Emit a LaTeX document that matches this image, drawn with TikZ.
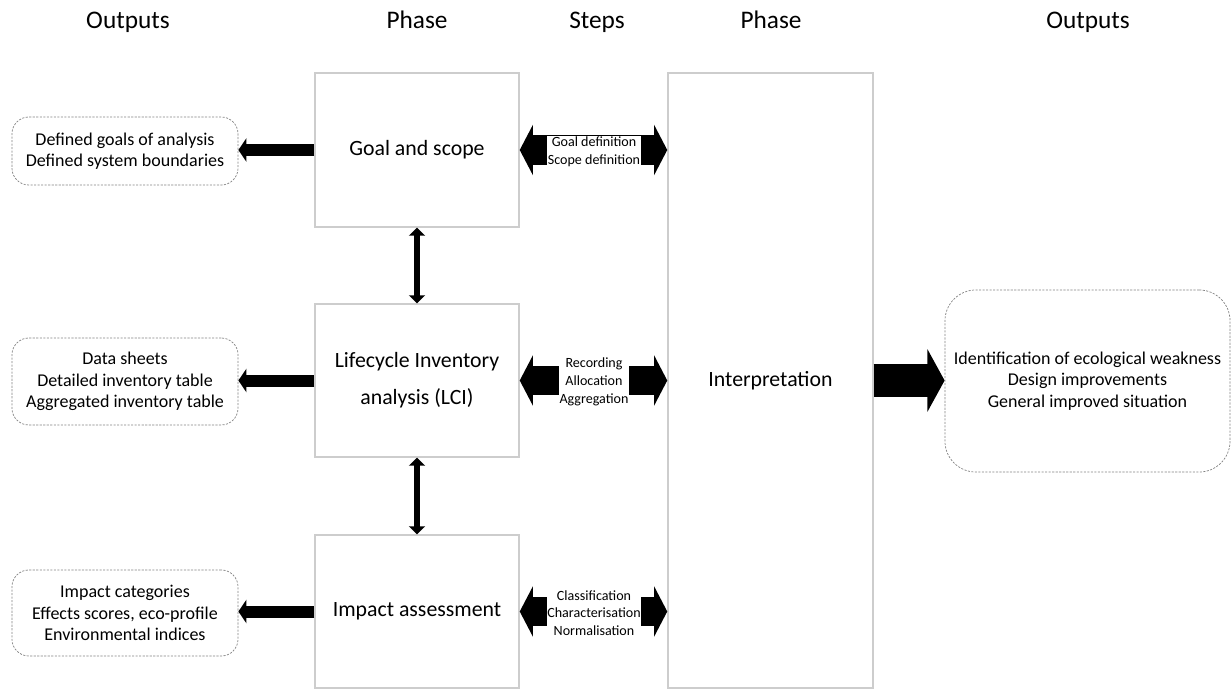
\documentclass[tikz,border=0pt]{standalone}
\usepackage{fontspec}
\setmainfont{Carlito}
\usetikzlibrary{arrows.meta, positioning}
\definecolor{boxgray}{RGB}{205,205,205}
\definecolor{dashgray}{RGB}{130,130,130}
\tikzset{
  phasebox/.style={
    rectangle, draw=boxgray, line width=1pt, fill=white,
    minimum width=5.1cm, minimum height=3.85cm,
    align=center, font=\fontsize{15.5}{26.3}\selectfont
  },
  outbox/.style={
    rectangle, rounded corners=12pt, draw=dashgray,
    dash pattern=on 1.5pt off 1pt, line width=0.5pt,
    minimum width=5.65cm, align=center,
    font=\fontsize{12.8}{15.3}\selectfont
  },
  headline/.style={anchor=base, font=\fontsize{18}{20}\selectfont},
  steptext/.style={fill=white, inner sep=0.5pt, align=center,
    font=\fontsize{10}{12.6}\selectfont},
  outarrow/.style={-{Triangle[length=0.2cm, width=0.58cm]}, line width=0.3cm},
  linkarrow/.style={{Triangle[length=0.2cm, width=0.4cm]}-{Triangle[length=0.2cm, width=0.4cm]}, line width=0.13cm},
  steparrow/.style={{Triangle[length=0.33cm, width=1.25cm]}-{Triangle[length=0.33cm, width=1.25cm]}, line width=0.73cm},
  bigarrow/.style={-{Triangle[length=0.43cm, width=1.55cm]}, line width=0.8cm}
}

\begin{document}
\begin{tikzpicture}[x=0.025cm, y=-0.025cm]
  \useasboundingbox (0,0) rectangle (1232,690);

  % Column headers
  \node[headline] (hout1) at (128,29) {Outputs};
  \node[headline] (hphase1) at (417,29) {Phase};
  \node[headline] (hsteps) at (597,29) {Steps};
  \node[headline] (hphase2) at (771,29) {Phase};
  \node[headline] (hout2) at (1088,29) {Outputs};

  % Phase boxes
  \node[phasebox] (goal) at (417,150) {Goal and scope};
  \node[phasebox, minimum height=3.825cm] (lci) at (417,380.5) {Lifecycle Inventory\\analysis (LCI)};
  \node[phasebox, minimum height=3.825cm] (impact) at (417,611.5) {Impact assessment};
  \node[phasebox, minimum width=5.125cm, minimum height=15.375cm] (interp) at (770.5,380.5) {Interpretation};

  % Output boxes
  \node[outbox, minimum height=1.7cm] (goalout) at (125,151) {Defined goals of analysis\\Defined system boundaries};
  \node[outbox, minimum height=2.175cm] (lciout) at (125,381.5) {Data sheets\\Detailed inventory table\\Aggregated inventory table};
  \node[outbox, minimum height=2.15cm] (impactout) at (125,613) {Impact categories\\Effects scores, eco-profile\\Environmental indices};
  \node[outbox, rounded corners=22pt, minimum width=7.125cm, minimum height=4.55cm] (resout) at (1087.5,381) {Identification of ecological weakness\\Design improvements\\General improved situation};

  % Phase to outputs
  \draw[outarrow] (goal.west) -- (goal.west -| goalout.east);
  \draw[outarrow] (lci.west) -- (lci.west -| lciout.east);
  \draw[outarrow] (impact.west) -- (impact.west -| impactout.east);

  % Links between phases
  \draw[linkarrow] (goal.south) -- (lci.north);
  \draw[linkarrow] (lci.south) -- (impact.north);

  % Steps to interpretation
  \draw[steparrow] (goal.east) -- (goal.east -| interp.west);
  \draw[steparrow] (lci.east) -- (lci.east -| interp.west);
  \draw[steparrow] (impact.east) -- (impact.east -| interp.west);
  \node[steptext] (goalsteps) at (594,152) {Goal definition\\Scope definition};
  \node[steptext] (lcisteps) at (594,382) {Recording\\Allocation\\Aggregation};
  \node[steptext] (impactsteps) at (594,613) {Classification\\Characterisation\\Normalisation};

  % Interpretation to results
  \draw[bigarrow] (interp.east) -- (interp.east -| resout.west);
\end{tikzpicture}
\end{document}
